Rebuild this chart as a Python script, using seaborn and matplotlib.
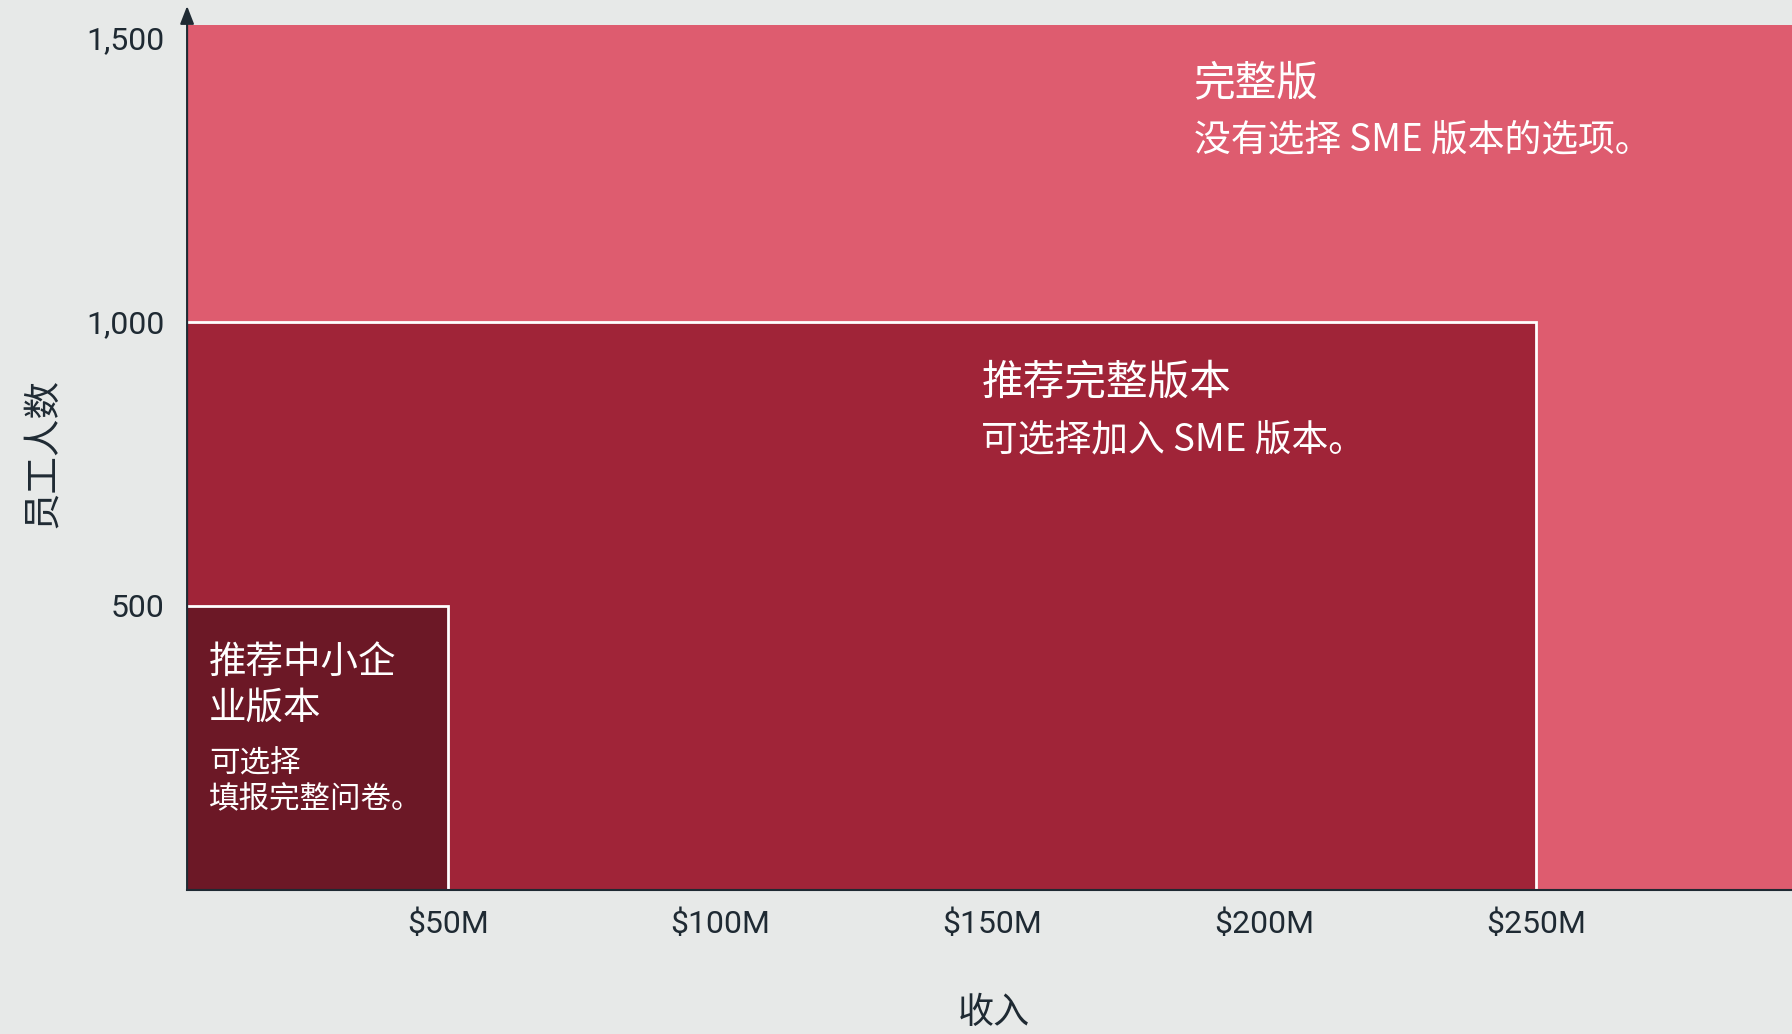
"""
Nested tier chart: which questionnaire version fits a company (revenue vs headcount)
"""
import matplotlib
matplotlib.use("Agg")
import matplotlib.pyplot as plt
import seaborn as sns

# Tiers, drawn from the largest box to the smallest
tiers = ["完整版", "推荐完整版本", "推荐中小企业版本"]
revenue_max = [300, 250, 50]        # $M
employees_max = [1530, 1000, 500]   # headcount (top tier is open-ended)
tier_colors = ["#de5c6f", "#a02438", "#6c1826"]

x_ticks = [50, 100, 150, 200, 250]
x_tick_labels = ["$50M", "$100M", "$150M", "$200M", "$250M"]
y_ticks = [500, 1000, 1500]
y_tick_labels = ["500", "1,000", "1,500"]

BG = "#e7e9e8"
INK = "#1f2a33"

sns.set_theme(style="white", rc={
    "figure.facecolor": BG,
    "axes.facecolor": BG,
    "savefig.facecolor": BG,
})
plt.rcParams["font.family"] = ["Noto Sans CJK SC", "DejaVu Sans"]

fig = plt.figure(figsize=(17.92, 10.34), dpi=100)
ax = fig.add_axes([0.1044, 0.1393, 0.8956, 0.8365])

for i, (w, h, c) in enumerate(zip(revenue_max, employees_max, tier_colors)):
    edge = "none" if i == 0 else "white"
    ax.bar(0, h, width=w, align="edge", color=c, edgecolor=edge,
           linewidth=2, zorder=i + 1)

ax.set_xlim(2, 297)
ax.set_ylim(0, 1522)

tick_font = ["Roboto", "DejaVu Sans"]
ax.set_xticks(x_ticks)
ax.set_xticklabels(x_tick_labels, family=tick_font, fontsize=23, color=INK)
ax.set_yticks(y_ticks)
ax.set_yticklabels(y_tick_labels, family=tick_font, fontsize=23, color=INK)
ax.tick_params(axis="x", length=0, pad=14)
ax.tick_params(axis="y", length=0, pad=16)

sns.despine(ax=ax, top=True, right=True, left=True)
ax.spines["bottom"].set_color(INK)
ax.spines["bottom"].set_linewidth(1.5)
ax.spines["bottom"].set_zorder(10)

# y axis with an arrow head on top
ax.annotate("", xy=(0, 1.022), xytext=(0, 0), xycoords="axes fraction",
            arrowprops=dict(arrowstyle="-|>,head_length=0.9,head_width=0.35",
                            color=INK, lw=1.5, shrinkA=0, shrinkB=0),
            zorder=11, annotation_clip=False)

ax.set_xlabel("收入", fontsize=26, color=INK)
ax.set_ylabel("员工人数", fontsize=27, color=INK)
ax.xaxis.set_label_coords(0.503, -0.121)
ax.yaxis.set_label_coords(-0.078, 0.505)

# tier labels
txt = dict(color="white", va="center", ha="left", zorder=20)
ax.text(187, 1418, "完整版", fontsize=30, **txt)
ax.text(187, 1320, "没有选择 SME 版本的选项。", fontsize=26.5, **txt)

ax.text(148, 890, "推荐完整版本", fontsize=30, **txt)
ax.text(148, 792, "可选择加入 SME 版本。", fontsize=26.5, **txt)

ax.text(6, 400, "推荐中小企", fontsize=27, **txt)
ax.text(6, 319, "业版本", fontsize=27, **txt)
ax.text(6, 221, "可选择", fontsize=22, **txt)
ax.text(6, 160, "填报完整问卷。", fontsize=22, **txt)

fig.savefig("out.png", dpi=100)
